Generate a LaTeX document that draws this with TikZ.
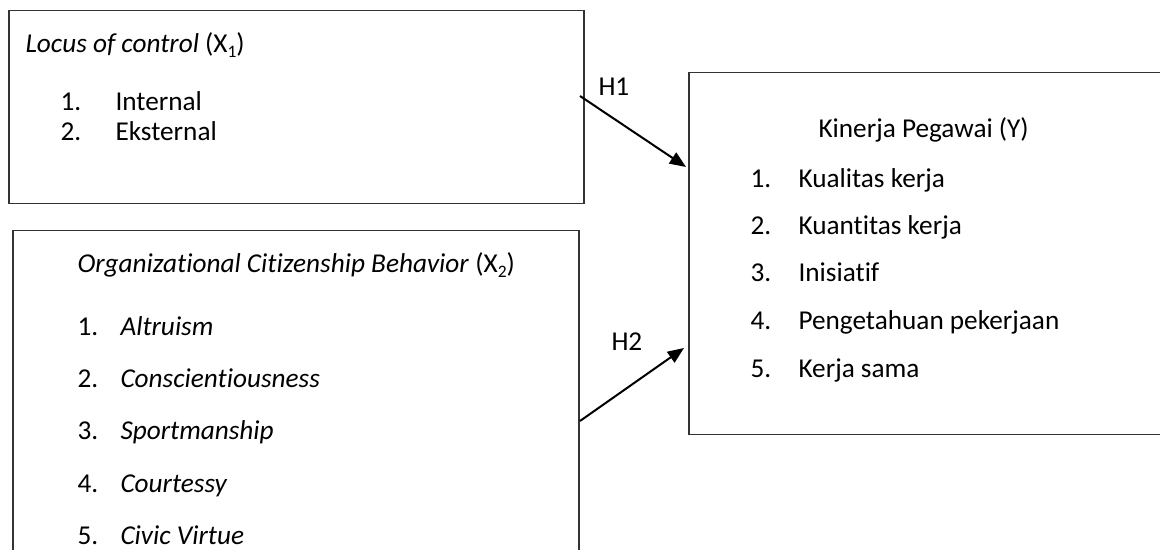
\documentclass[tikz,border=0pt]{standalone}
\usepackage{fontspec}
\setmainfont{Carlito}[Ligatures=CommonOff]
\usetikzlibrary{arrows.meta}
\newcommand{\lowsub}[1]{\raisebox{-0.35ex}{\fontsize{7}{8}\selectfont #1}}
\tikzset{
	box/.style={draw=black!80, line width=0.6pt, anchor=north west, inner sep=0pt},
	txt/.style={anchor=base west, inner sep=0pt, font=\fontsize{10.9}{13}\selectfont},
	hyp/.style={-{Triangle[length=6.5pt,width=5.2pt]}, line width=0.8pt},
}
\begin{document}
\begin{tikzpicture}[x=0.4pt,y=-0.4pt]
\clip (0,0) rectangle (1160,550);
% boxes
\node[box, minimum width=230pt, minimum height=77.2pt] (locus) at (8,10) {};
\node[box, minimum width=226.4pt, minimum height=132pt] (ocb) at (12,230) {};
\node[box, minimum width=192.8pt, minimum height=144.8pt] (kinerja) at (688,72) {};
% locus of control
\node[txt] (locT) at (25,53) {\textit{Locus of control} (X\lowsub{1})};
\node[txt] (locN1) at (60,111) {1.};
\node[txt] (locI1) at (115,111) {Internal};
\node[txt] (locN2) at (60,141) {2.};
\node[txt] (locI2) at (115,141) {Eksternal};
% OCB
\node[txt] (ocbT) at (77,273) {\textit{Organizational Citizenship Behavior} (X\lowsub{2})};
\foreach \i/\t/\y in {1/Altruism/336, 2/Conscientiousness/388, 3/Sportmanship/440, 4/Courtessy/493, 5/Civic Virtue/545}{
	\node[txt] (ocbN\i) at (77,\y) {\i.};
	\node[txt] (ocbI\i) at (120,\y) {\textit{\t}};
}
% kinerja pegawai
\node[txt] (kinT) at (818,138) {Kinerja Pegawai (Y)};
\foreach \i/\t/\y in {1/Kualitas kerja/188, 2/Kuantitas kerja/235, 3/Inisiatif/282, 4/Pengetahuan pekerjaan/330, 5/Kerja sama/378}{
	\node[txt] (kinN\i) at (750,\y) {\i.};
	\node[txt] (kinI\i) at (798,\y) {\t};
}
% hypotheses
\coordinate (h1s) at (580,96);
\coordinate (h1e) at (686,167);
\coordinate (h2s) at (580,421);
\coordinate (h2e) at (684,348);
\draw[hyp] (h1s) -- (h1e);
\draw[hyp] (h2s) -- (h2e);
\node[txt] (h1) at (598,96) {H1};
\node[txt] (h2) at (611,351) {H2};
\end{tikzpicture}
\end{document}
